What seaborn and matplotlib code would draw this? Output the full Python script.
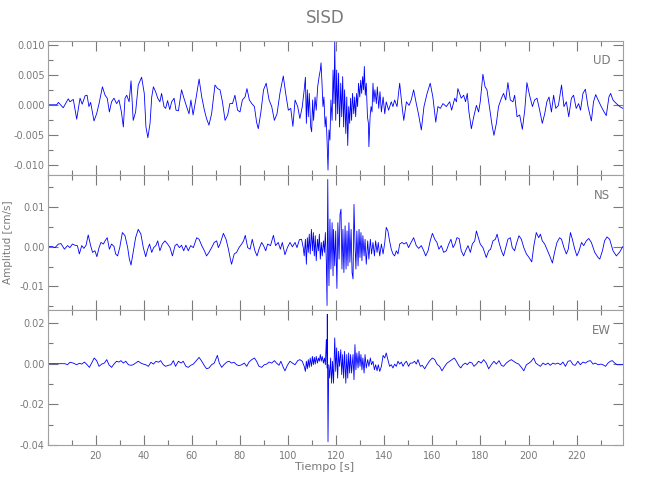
import matplotlib
matplotlib.use("Agg")
import matplotlib.pyplot as plt
import seaborn as sns
import numpy as np
import pandas as pd
from matplotlib.ticker import MultipleLocator, FormatStrFormatter, FixedLocator

# valores: (tiempo [s], amplitud [cm/s])
ud_pts = [
    (0, 0), (3.8, 0), (4.5, 0.0004), (6.5, -0.0005), (8.6, 0.0010), (9.3, 0.0005), (10.7, 0.0009),
    (12.1, -0.0024), (13.5, 0.0011), (14.4, 0.0001), (15.6, 0.0015), (16.4, 0.0016), (17.2, -0.0003),
    (17.9, 0.0004), (19.3, -0.0027), (20.4, -0.0015), (21.4, 0.0002), (22.8, 0.0030), (23.9, 0.0016),
    (24.8, 0.0011), (25.7, -0.0012), (26.6, 0.0005), (27.6, 0.0011), (28.7, 0.0002), (29.7, 0.0008),
    (30.7, -0.0012), (31.5, -0.0037), (32.2, 0.0011), (32.9, 0.0016), (33.9, 0.0005), (34.7, 0.0040),
    (35.6, -0.0026), (36.6, -0.0012), (37.7, 0.0033), (39.1, 0.0046), (40.2, 0.0019), (40.9, -0.0037),
    (41.7, -0.0055), (42.6, -0.0031), (43.3, 0.0013), (44.0, 0.0030), (44.9, 0.0022), (45.8, 0.0011),
    (46.7, 0.0005), (47.4, 0.0019), (48.4, -0.0003), (49.1, -0.0006), (49.9, 0.0007), (50.8, -0.0008),
    (51.6, 0.0005), (52.6, 0.0011), (53.4, -0.0009), (54.4, -0.0010), (55.7, 0.0025), (56.7, 0.0011),
    (57.8, -0.0003), (58.8, -0.0015), (59.6, 0.0008), (60.5, -0.0017), (61.6, 0.0008), (63.0, 0.0043),
    (64.1, 0.0013), (65.2, -0.0009), (66.1, -0.0023), (67.1, -0.0034), (68.2, -0.0015), (69.6, 0.0033),
    (70.7, 0.0027), (71.7, 0.0025), (72.7, 0.0005), (73.8, -0.0026), (74.9, -0.0017), (75.8, 0.0002),
    (76.9, 0.0002), (77.9, 0.0016), (79.0, -0.0009), (80.0, -0.0012), (81.0, 0.0008), (82.1, 0.0013),
    (82.9, 0.0027), (83.9, 0.0008), (84.9, 0.0002), (86.0, -0.0003), (86.9, -0.0029), (87.6, -0.0040),
    (88.7, -0.0012), (89.8, 0.0025), (90.9, 0.0036), (92.1, 0.0008), (93.2, -0.0003), (94.3, -0.0026),
    (95.4, -0.0015), (96.6, 0.0019), (98.0, 0.0048), (99.0, 0.0019), (100.1, -0.0009), (101.1, -0.0006),
    (102.0, -0.0036), (102.9, 0.0008), (104.0, -0.0003), (104.9, -0.0023), (105.9, -0.0003),
    (106.7, 0.0025), (107.2, 0.0046), (107.6, -0.0031), (108.0, 0.0025), (108.4, -0.0020),
    (108.8, 0.0019), (109.4, -0.0037), (109.8, -0.0045), (110.2, 0.0008), (110.6, -0.0026),
    (111.2, 0.0013), (111.7, -0.0009), (112.3, 0.0030), (112.9, 0.0047), (113.4, 0.0058),
    (113.7, 0.0070), (114.1, 0.0036), (114.5, -0.0003), (114.9, 0.0013), (115.4, -0.0037),
    (115.8, -0.0020), (116.2, -0.0059), (116.6, -0.0109), (117.0, -0.0042), (117.4, -0.0059),
    (117.8, 0.0008), (118.3, -0.0026), (118.7, 0.0058), (119.1, 0.0002), (119.4, 0.0106),
    (119.8, -0.0026), (120.2, 0.0058), (120.6, -0.0015), (121.0, 0.0053), (121.4, -0.0037),
    (121.9, 0.0036), (122.3, -0.0020), (122.7, 0.0047), (123.1, -0.0037), (123.5, 0.0025),
    (124.0, -0.0048), (124.4, 0.0013), (124.8, -0.0068), (125.2, -0.0003), (125.6, -0.0031),
    (126.0, 0.0011), (126.4, -0.0026), (126.8, 0.0019), (127.3, -0.0015), (127.7, 0.0013),
    (128.1, -0.0020), (128.5, 0.0019), (128.9, -0.0003), (129.3, 0.0036), (129.8, 0.0013),
    (130.2, 0.0041), (130.6, 0.0019), (131.0, 0.0047), (131.4, 0.0025), (131.7, 0.0064),
    (132.1, 0.0016), (132.5, 0.0036), (133.0, -0.0020), (133.4, -0.0031), (133.6, -0.0070),
    (134.1, -0.0020), (134.5, -0.0003), (134.9, -0.0012), (135.3, 0.0036), (135.7, 0.0005),
    (136.1, 0.0025), (136.7, 0.0002), (137.1, 0.0030), (137.7, -0.0006), (138.2, 0.0022),
    (138.8, -0.0012), (139.5, 0.0013), (140.2, -0.0015), (140.8, 0.0005), (141.8, -0.0009),
    (142.9, 0.0005), (143.6, -0.0003), (144.3, 0.0008), (145.3, -0.0003), (146.4, 0.0036),
    (147.4, -0.0003), (148.1, -0.0026), (149.2, 0.0005), (150.3, -0.0001), (151.2, 0.0008),
    (152.2, 0.0025), (153.3, 0.0002), (154.2, -0.0015), (155.4, -0.0042), (156.5, -0.0003),
    (157.8, 0.0019), (159.1, 0.0036), (160.2, 0.0013), (161.4, -0.0029), (162.3, -0.0003),
    (163.3, -0.0006), (164.4, 0.0002), (165.8, -0.0003), (167.2, 0.0005), (168.0, -0.0009),
    (169.3, 0.0011), (170.0, 0.0005), (170.6, 0.0027), (172.0, 0.0011), (173.0, 0.0016),
    (173.8, 0.0005), (174.5, 0.0019), (175.2, -0.0012), (176.2, -0.0040), (177.2, -0.0020),
    (178.3, -0.0001), (179.2, -0.0012), (179.9, 0.0005), (181.0, 0.0051), (181.9, 0.0030),
    (182.7, 0.0025), (183.8, -0.0006), (184.8, -0.0034), (185.6, -0.0051), (186.6, -0.0031),
    (187.5, -0.0003), (188.7, 0.0011), (189.6, 0.0019), (190.5, 0.0008), (191.4, 0.0037),
    (192.4, 0.0008), (193.5, 0.0005), (194.2, 0.0016), (195.2, -0.0020), (196.3, -0.0017),
    (197.4, -0.0041), (198.4, -0.0009), (199.3, 0.0037), (200.4, 0.0016), (201.6, -0.0003),
    (202.5, 0.0008), (203.5, 0.0011), (204.6, -0.0009), (205.7, -0.0031), (206.7, -0.0015),
    (207.6, 0.0005), (208.5, 0.0013), (209.5, -0.0012), (210.4, 0.0016), (211.3, -0.0006),
    (212.4, -0.0001), (213.7, 0.0033), (214.7, -0.0003), (215.7, 0.0005), (216.7, -0.0020),
    (217.8, 0.0011), (218.7, 0.0016), (219.8, -0.0006), (220.8, 0.0002), (221.6, -0.0009),
    (222.6, 0.0019), (223.6, 0.0026), (224.7, -0.0003), (226.1, -0.0027), (227.0, 0.0005),
    (227.9, 0.0017), (228.9, 0.0008), (230.2, -0.0003), (231.4, -0.0012), (232.3, -0.0018),
    (233.4, 0.0013), (234.1, 0.0019), (235.1, 0.0008), (236.5, 0.0002), (237.9, -0.0003),
    (239.2, -0.0006),
]

ns_pts = [
    (0, 0), (1.7, 0.0001), (3.1, -0.0002), (4.5, 0.0007), (5.6, 0.0008), (7.0, -0.0006), (8.3, 0.0003),
    (9.3, -0.0002), (10.3, 0.0007), (11.4, 0.0004), (12.4, 0.0003), (13.2, -0.0018), (14.2, 0.0003),
    (15.1, -0.0004), (16.0, 0.0004), (16.9, 0.0030), (17.9, 0.0003), (18.7, -0.0014), (19.7, -0.0010),
    (20.5, -0.0025), (21.4, -0.0002), (22.2, 0.0011), (23.2, 0.0007), (23.9, 0.0015), (24.8, 0.0023),
    (25.7, -0.0006), (26.6, 0.0007), (27.6, 0.0001), (28.3, -0.0018), (29.1, -0.0023), (30.0, -0.0002),
    (31.1, 0.0036), (32.2, 0.0028), (33.3, -0.0002), (34.0, -0.0031), (34.7, -0.0046), (35.6, -0.0014),
    (36.6, 0.0023), (37.7, 0.0044), (38.8, 0.0032), (39.8, -0.0002), (40.8, -0.0025), (41.6, -0.0006),
    (42.4, 0.0007), (43.3, -0.0014), (44.1, -0.0002), (45.0, 0.0003), (45.8, 0.0015), (46.7, -0.0010),
    (47.7, 0.0007), (48.8, 0.0015), (49.9, 0.0007), (50.9, -0.0002), (51.9, -0.0023), (53.0, 0.0003),
    (53.8, 0.0007), (54.8, -0.0002), (55.7, 0.0004), (56.6, -0.0010), (57.5, 0.0004), (58.5, -0.0010),
    (59.5, 0.0003), (60.6, -0.0002), (62.0, 0.0023), (63.0, 0.0019), (64.1, 0.0003), (65.2, -0.0010),
    (66.1, -0.0023), (67.1, -0.0014), (68.2, -0.0002), (69.3, 0.0011), (70.3, 0.0015), (71.0, -0.0002),
    (71.7, 0.0007), (73.1, 0.0034), (74.2, 0.0019), (75.2, -0.0006), (76.0, -0.0031), (76.5, -0.0044),
    (77.6, -0.0018), (78.6, -0.0014), (79.6, -0.0002), (80.7, 0.0007), (81.5, 0.0015), (82.2, 0.0029),
    (83.2, -0.0002), (84.2, -0.0006), (85.1, 0.0019), (86.2, -0.0010), (87.1, -0.0023), (87.9, -0.0006),
    (89.0, 0.0011), (89.8, 0.0003), (90.7, -0.0010), (91.5, 0.0007), (92.7, 0.0003), (93.9, 0.0029),
    (94.8, 0.0003), (95.9, 0.0011), (96.8, -0.0006), (97.6, 0.0011), (98.7, -0.0020), (99.7, -0.0002),
    (100.8, 0.0011), (101.8, 0.0000), (102.9, 0.0011), (103.7, -0.0002), (104.7, 0.0018),
    (105.6, 0.0019), (106.3, -0.0002), (106.7, -0.0023), (107.2, 0.0019), (107.6, -0.0044),
    (108.0, 0.0023), (108.4, -0.0014), (108.8, 0.0032), (109.2, -0.0018), (109.7, 0.0044),
    (110.1, -0.0010), (110.5, 0.0036), (110.9, -0.0023), (111.3, 0.0028), (111.7, -0.0035),
    (112.2, 0.0019), (112.6, -0.0010), (113.0, 0.0032), (113.4, -0.0031), (113.8, 0.0011),
    (114.2, -0.0023), (114.7, 0.0015), (115.1, -0.0014), (115.5, 0.0036), (115.9, -0.0039),
    (116.2, -0.0148), (116.5, 0.0170), (116.7, 0.0011), (117.0, -0.0098), (117.4, 0.0070),
    (117.8, -0.0056), (118.3, 0.0061), (118.7, -0.0073), (118.9, 0.0044), (119.4, -0.0048),
    (119.8, 0.0040), (120.3, -0.0105), (120.7, 0.0061), (121.2, -0.0031), (121.6, 0.0082),
    (122.0, 0.0095), (122.4, -0.0056), (122.8, 0.0044), (123.2, -0.0065), (123.7, 0.0053),
    (124.1, -0.0056), (124.5, 0.0040), (124.9, -0.0048), (125.3, 0.0061), (125.7, -0.0039),
    (126.2, 0.0044), (126.6, -0.0065), (127.0, -0.0081), (127.4, 0.0107), (127.8, 0.0011),
    (128.2, -0.0056), (128.6, 0.0040), (129.1, -0.0048), (129.5, 0.0044), (129.9, -0.0027),
    (130.3, 0.0036), (130.7, -0.0035), (131.1, 0.0028), (131.6, -0.0023), (132.0, 0.0019),
    (132.5, -0.0044), (133.1, 0.0015), (133.6, -0.0031), (134.2, 0.0019), (134.7, -0.0018),
    (135.3, 0.0011), (135.9, -0.0023), (136.4, 0.0015), (137.0, -0.0014), (137.5, 0.0011),
    (138.1, -0.0023), (138.8, 0.0007), (139.5, -0.0018), (140.2, 0.0011), (140.8, 0.0049),
    (141.5, 0.0040), (142.2, 0.0015), (142.9, -0.0006), (143.6, -0.0018), (144.3, -0.0023),
    (145.0, -0.0010), (145.7, -0.0018), (146.4, 0.0007), (147.4, 0.0011), (148.2, 0.0007),
    (149.2, 0.0011), (150.1, -0.0002), (150.8, 0.0007), (152.2, 0.0023), (153.3, 0.0003),
    (154.3, -0.0004), (155.4, 0.0003), (156.4, -0.0010), (157.2, -0.0023), (158.2, -0.0010),
    (159.1, 0.0015), (160.0, 0.0034), (161.0, 0.0019), (161.9, 0.0011), (162.7, -0.0006),
    (163.7, 0.0003), (164.7, -0.0014), (165.8, -0.0010), (166.8, 0.0007), (167.7, 0.0019),
    (168.6, -0.0002), (169.4, 0.0007), (170.2, 0.0023), (171.1, 0.0021), (172.0, -0.0010),
    (173.0, -0.0023), (173.8, -0.0010), (174.8, 0.0003), (175.8, -0.0014), (176.6, 0.0007),
    (177.6, 0.0015), (178.3, 0.0040), (179.1, 0.0023), (179.9, 0.0007), (181.0, -0.0002),
    (181.7, -0.0014), (182.4, -0.0027), (183.4, -0.0010), (184.2, -0.0006), (185.2, 0.0015),
    (186.2, 0.0019), (186.9, 0.0032), (187.7, 0.0011), (188.7, -0.0010), (189.6, -0.0023),
    (190.5, -0.0002), (191.4, 0.0019), (192.4, 0.0023), (193.2, -0.0002), (194.2, -0.0010),
    (194.9, 0.0007), (196.0, 0.0028), (197.0, 0.0019), (198.0, -0.0002), (199.1, -0.0018),
    (200.2, -0.0027), (201.3, -0.0038), (202.2, 0.0003), (203.2, 0.0036), (204.2, 0.0023),
    (204.9, 0.0032), (205.7, 0.0015), (206.7, 0.0007), (207.6, -0.0006), (208.8, -0.0023),
    (209.9, -0.0041), (210.8, -0.0014), (211.8, 0.0011), (212.9, 0.0023), (213.7, 0.0019),
    (214.7, -0.0002), (215.7, -0.0018), (216.5, -0.0006), (217.4, 0.0036), (218.2, 0.0019),
    (219.2, -0.0006), (220.1, -0.0023), (221.0, -0.0010), (222.0, 0.0011), (222.9, 0.0003),
    (224.0, 0.0015), (225.0, 0.0021), (226.1, 0.0011), (227.5, -0.0014), (228.9, -0.0027),
    (229.6, -0.0031), (230.7, -0.0010), (231.6, 0.0015), (232.6, 0.0025), (233.7, 0.0019),
    (235.1, -0.0010), (236.5, -0.0023), (237.9, -0.0013), (239.2, 0.0001),
]

ew_pts = [
    (0, 0), (7.2, 0), (8.3, -0.0005), (9.3, 0.0007), (10.7, 0.0003), (12.1, -0.0005), (13.2, 0.0002),
    (14.2, -0.0002), (15.3, 0.0008), (16.2, -0.0002), (17.4, -0.0018), (18.3, 0.0003), (19.4, 0.0028),
    (20.4, 0.0015), (21.4, -0.0013), (22.5, -0.0002), (23.6, 0.0003), (24.6, 0.0020), (25.5, -0.0005),
    (26.6, -0.0018), (27.6, -0.0002), (28.7, 0.0012), (29.7, 0.0008), (30.5, 0.0015), (31.5, 0.0003),
    (32.5, 0.0012), (33.6, -0.0005), (34.7, -0.0008), (35.6, -0.0005), (36.6, 0.0003), (37.7, 0.0012),
    (38.8, 0.0003), (39.8, -0.0002), (40.8, -0.0005), (41.9, -0.0013), (43.0, 0.0007), (44.0, -0.0002),
    (45.1, 0.0012), (46.1, 0.0007), (47.0, 0.0015), (48.1, -0.0005), (49.1, -0.0013), (50.2, -0.0008),
    (51.3, -0.0005), (52.3, 0.0015), (53.2, -0.0013), (54.4, 0.0012), (55.5, 0.0003), (56.4, 0.0012),
    (57.5, -0.0013), (58.5, -0.0018), (59.5, -0.0008), (60.6, -0.0002), (61.6, 0.0012), (63.0, 0.0031),
    (64.1, 0.0012), (65.2, -0.0010), (66.1, -0.0025), (67.1, -0.0021), (68.2, -0.0005), (69.3, 0.0003),
    (70.6, 0.0041), (71.4, 0.0003), (72.4, -0.0018), (73.3, -0.0005), (74.5, 0.0008), (75.4, 0.0012),
    (76.5, 0.0003), (77.5, 0.0007), (78.6, -0.0005), (79.6, -0.0010), (80.7, -0.0005), (81.8, 0.0003),
    (82.8, -0.0013), (83.7, 0.0007), (84.9, 0.0020), (86.0, 0.0028), (86.9, 0.0012), (87.9, -0.0013),
    (89.0, -0.0018), (90.1, -0.0005), (91.1, -0.0002), (92.1, 0.0008), (93.2, 0.0003), (94.3, 0.0015),
    (95.2, 0.0003), (96.2, -0.0008), (97.0, 0.0012), (98.0, -0.0018), (98.7, -0.0035), (99.7, -0.0008),
    (100.8, 0.0012), (101.8, 0.0003), (102.9, -0.0005), (104.0, 0.0015), (104.9, 0.0020),
    (105.9, 0.0012), (106.7, -0.0013), (107.2, -0.0038), (107.6, 0.0012), (108.0, -0.0025),
    (108.4, 0.0020), (108.8, -0.0018), (109.2, 0.0028), (109.7, -0.0013), (110.1, 0.0036),
    (110.5, -0.0005), (110.9, 0.0031), (111.3, -0.0002), (111.7, 0.0036), (112.2, 0.0003),
    (112.6, 0.0028), (113.0, 0.0012), (113.4, 0.0045), (113.8, 0.0012), (114.2, 0.0036),
    (114.7, 0.0003), (115.1, 0.0028), (115.5, -0.0005), (115.9, 0.0119), (116.2, -0.0021),
    (116.3, 0.0243), (116.6, -0.0384), (116.9, -0.0005), (117.3, -0.0071), (117.7, 0.0028),
    (118.1, -0.0096), (118.5, 0.0012), (118.9, -0.0096), (119.4, 0.0127), (119.8, -0.0038),
    (120.2, 0.0078), (120.6, -0.0071), (121.0, 0.0061), (121.4, -0.0013), (121.9, 0.0069),
    (122.3, -0.0054), (122.7, 0.0045), (123.1, -0.0071), (123.5, 0.0061), (124.0, -0.0096),
    (124.4, 0.0045), (124.8, -0.0071), (125.2, 0.0053), (125.6, -0.0046), (126.0, 0.0045),
    (126.4, -0.0046), (127.0, 0.0045), (127.4, -0.0079), (127.8, 0.0094), (128.2, -0.0030),
    (128.6, 0.0053), (129.1, -0.0021), (129.5, 0.0061), (129.9, -0.0013), (130.3, 0.0045),
    (130.7, -0.0030), (131.1, 0.0028), (131.6, -0.0046), (132.0, 0.0045), (132.5, -0.0021),
    (133.1, 0.0020), (133.6, -0.0013), (134.2, 0.0028), (134.7, -0.0005), (135.3, 0.0012),
    (135.9, -0.0030), (136.4, -0.0005), (137.0, -0.0035), (137.5, -0.0005), (138.1, -0.0038),
    (138.8, -0.0013), (139.5, 0.0041), (140.2, 0.0028), (140.8, 0.0053), (141.5, 0.0020),
    (142.2, -0.0013), (142.9, -0.0005), (143.6, -0.0021), (144.3, -0.0002), (145.0, -0.0013),
    (145.7, 0.0012), (146.4, -0.0002), (147.1, 0.0008), (147.8, -0.0013), (148.5, 0.0003),
    (149.2, 0.0012), (150.1, -0.0013), (150.8, 0.0003), (151.7, 0.0003), (152.6, 0.0012),
    (153.3, -0.0002), (154.0, 0.0020), (155.0, -0.0013), (155.8, -0.0008), (156.8, -0.0025),
    (157.8, -0.0005), (158.9, 0.0015), (160.0, 0.0028), (161.0, 0.0020), (161.9, -0.0002),
    (163.0, -0.0013), (164.0, -0.0035), (165.1, -0.0013), (166.1, 0.0003), (167.2, 0.0012),
    (168.1, 0.0020), (169.1, 0.0028), (170.0, 0.0012), (170.9, -0.0008), (171.8, -0.0021),
    (172.7, -0.0005), (173.7, 0.0003), (174.5, -0.0005), (175.5, 0.0008), (176.5, 0.0003),
    (177.3, -0.0013), (178.3, -0.0002), (179.2, 0.0012), (180.3, 0.0003), (181.3, 0.0020),
    (182.4, 0.0003), (183.4, -0.0025), (184.5, -0.0005), (185.6, 0.0012), (186.6, -0.0002),
    (187.7, 0.0015), (188.7, -0.0008), (189.6, -0.0013), (190.7, 0.0003), (191.7, 0.0012),
    (192.8, 0.0020), (193.8, 0.0012), (194.9, 0.0003), (195.9, -0.0002), (197.0, -0.0018),
    (198.0, -0.0035), (199.1, -0.0005), (200.2, 0.0003), (201.1, 0.0012), (202.1, 0.0028),
    (203.0, 0.0003), (203.9, -0.0005), (204.9, -0.0013), (206.0, 0.0003), (207.0, -0.0005),
    (208.1, 0.0003), (209.0, -0.0008), (210.1, 0.0003), (211.1, -0.0002), (212.2, 0.0003),
    (213.2, -0.0005), (214.3, 0.0008), (215.3, -0.0013), (216.4, 0.0012), (217.4, 0.0015),
    (218.5, -0.0005), (219.4, -0.0008), (220.5, 0.0012), (221.5, -0.0005), (222.6, 0.0008),
    (223.6, 0.0003), (224.7, 0.0012), (225.7, 0.0015), (226.8, -0.0002), (227.7, 0.0003),
    (228.9, -0.0005), (230.0, -0.0002), (230.9, -0.0005), (232.0, -0.0013), (233.0, 0.0003),
    (234.0, 0.0012), (234.8, 0.0015), (235.8, 0.0003), (236.8, -0.0005), (238.1, -0.0005),
    (239.2, -0.0005),
]

componentes = ["UD", "NS", "EW"]
limites_y = [(-0.0118, 0.0107), (-0.016, 0.018), (-0.04, 0.0263)]
ticks_y = [[-0.010, -0.005, 0.0, 0.005, 0.010], [-0.01, 0.0, 0.01], [-0.04, -0.02, 0.0, 0.02]]
menores_y = [0.0025, 0.005, 0.01]
formatos_y = ["%.3f", "%.2f", "%.2f"]
ticks_x = [20, 40, 60, 80, 100, 120, 140, 160, 180, 200, 220]
t_max = 239.4

gris = "#7a7a7a"
sns.set_theme(style="white")
plt.rcParams["font.family"] = ["DejaVu Sans"]
plt.rcParams["axes.unicode_minus"] = False


def graficar_componente(ax, pts, nombre, ylim, yt, ymenor, fmt):
    df = pd.DataFrame(pts, columns=["tiempo", "amp"])
    sns.lineplot(data=df, x="tiempo", y="amp", ax=ax, color="#0000ff", linewidth=0.6,
                 estimator=None, sort=False)
    ax.set_xlim(0, t_max)
    ax.set_ylim(*ylim)
    ax.yaxis.set_major_locator(FixedLocator(yt))
    ax.yaxis.set_major_formatter(FormatStrFormatter(fmt))
    ax.yaxis.set_minor_locator(MultipleLocator(ymenor))
    ax.xaxis.set_major_locator(FixedLocator(ticks_x))
    ax.xaxis.set_minor_locator(MultipleLocator(10))
    ax.tick_params(which="both", direction="in", top=True, right=True, bottom=True, left=True,
                   color=gris, width=0.8, labelsize=7, labelcolor=gris, pad=2)
    ax.tick_params(which="major", length=7)
    ax.tick_params(which="minor", length=3.5)
    for s in ax.spines.values():
        s.set_color("#a0a0a0")
        s.set_linewidth(0.8)
    ax.set_xlabel("")
    ax.set_ylabel("")
    ax.text(0.962, 0.85, nombre, transform=ax.transAxes, ha="center", va="center",
            fontsize=8.5, color=gris)


fig, axes = plt.subplots(3, 1, figsize=(6.5, 5), dpi=100, sharex=True)
fig.subplots_adjust(left=0.0732, right=0.959, top=0.9186, bottom=0.11, hspace=0)

datos = [ud_pts, ns_pts, ew_pts]
for i, ax in enumerate(axes):
    graficar_componente(ax, datos[i], componentes[i], limites_y[i], ticks_y[i],
                        menores_y[i], formatos_y[i])
    if i < 2:
        ax.tick_params(labelbottom=False)

axes[2].tick_params(axis="x", pad=4)
fig.text(0.5, 0.964, "SISD", ha="center", va="center", fontsize=12, color=gris)
fig.text(0.5, 0.066, "Tiempo [s]", ha="center", va="center", fontsize=8, color=gris)
fig.text(0.0125, 0.515, "Amplitud [cm/s]", ha="center", va="center", rotation=90,
         fontsize=7.5, color=gris)

fig.savefig("out.png", dpi=100, facecolor="white")
